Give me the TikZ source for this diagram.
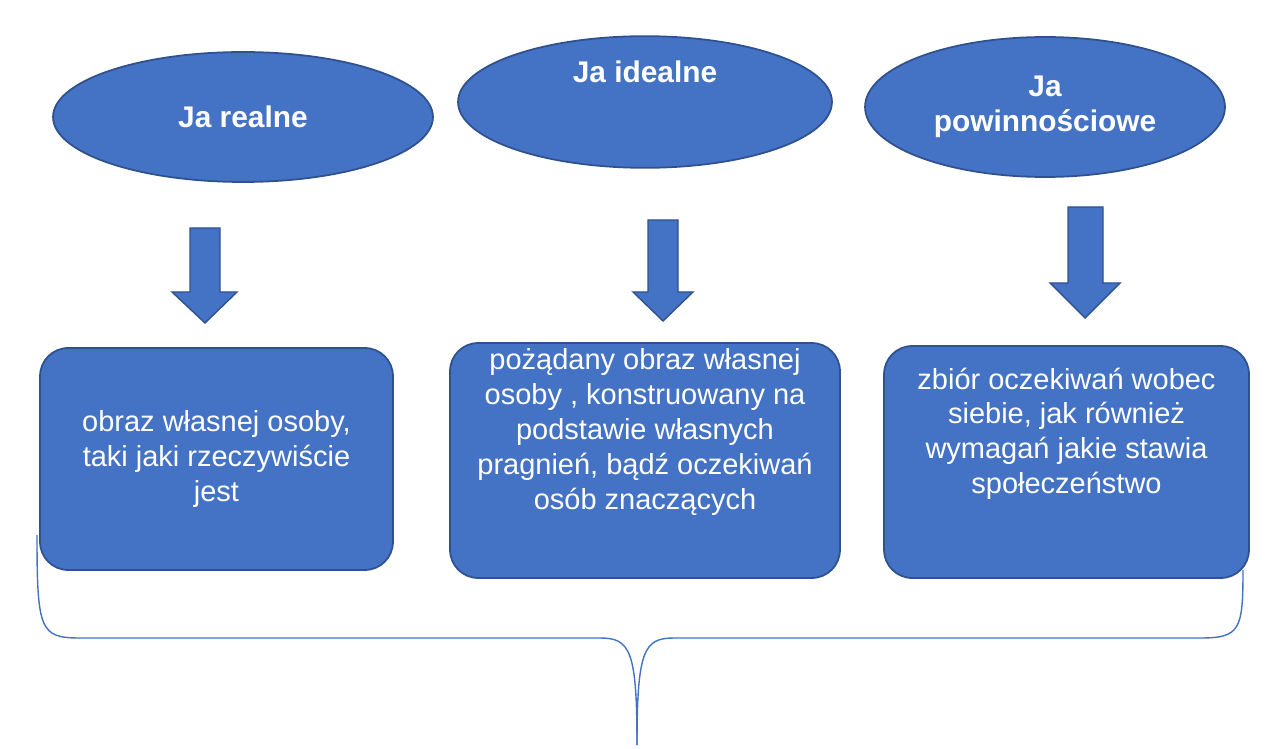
\documentclass[tikz,border=0pt]{standalone}
\usepackage{fontspec}
\setmainfont{Liberation Sans}
\usetikzlibrary{shapes.geometric, shapes.arrows, positioning}
\definecolor{boxblue}{HTML}{4472C4}
\definecolor{edgeblue}{HTML}{2F528F}
\tikzset{
  self/.style={ellipse, fill=boxblue, draw=edgeblue, line width=1pt, text=white,
    font=\fontsize{17}{20}\selectfont\bfseries, align=center},
  desc/.style={rounded corners=16pt, fill=boxblue, draw=edgeblue, line width=1pt, text=white,
    font=\fontsize{16.5}{19.8}\selectfont, align=center},
  down/.style={fill=boxblue, draw=edgeblue, line width=0.8pt}
}
\begin{document}
\begin{tikzpicture}[x=0.02cm, y=-0.02cm]
\useasboundingbox (0,0) rectangle (1280,749);
% ellipses
\node[self, minimum width=380\pgflinewidth*0+7.6cm, minimum height=2.6cm] (real) at (243,117) {Ja realne};
\node[self, minimum width=7.48cm, minimum height=2.28cm] (ideal) at (645,102) {Ja idealne\\[14pt]};
\node[self, minimum width=7.2cm, minimum height=2.8cm] (duty) at (1045,107) {Ja\\powinnościowe};
% boxes
\node[desc, minimum width=7.06cm, minimum height=4.44cm] (realbox) at (216.5,459) {obraz własnej osoby,\\taki jaki rzeczywiście\\jest};
\node[desc, minimum width=7.8cm, minimum height=4.7cm] (idealbox) at (645,460.5) {pożądany obraz własnej\\osoby , konstruowany na\\podstawie własnych\\pragnień, bądź oczekiwań\\osób znaczących\\[16pt]};
\node[desc, minimum width=7.3cm, minimum height=4.64cm] (dutybox) at (1066.5,462) {zbiór oczekiwań wobec\\siebie, jak również\\wymagań jakie stawia\\społeczeństwo\\[16pt]};
% arrows
\draw[down] (190,228) -- (220,228) -- (220,292) -- (237,292) -- (205,323) -- (172,292) -- (190,292) -- cycle;
\draw[down] (648,220) -- (678,220) -- (678,292) -- (693,292) -- (663,321) -- (633,292) -- (648,292) -- cycle;
\draw[down] (1068,207) -- (1103,207) -- (1103,283) -- (1120,283) -- (1085,318) -- (1050,283) -- (1068,283) -- cycle;
% brace
\coordinate (bl) at (37,535);
\coordinate (br) at (1243,570);
\coordinate (tip) at (637,745);
\draw[boxblue, line width=0.8pt] (bl) .. controls (37,630) and (40,638) .. (80,638)
  -- (600,638) .. controls (630,638) and (637,650) .. (tip);
\draw[boxblue, line width=0.8pt] (br) .. controls (1243,630) and (1240,638) .. (1200,638)
  -- (674,638) .. controls (644,638) and (637,650) .. (tip);
\end{tikzpicture}
\end{document}
